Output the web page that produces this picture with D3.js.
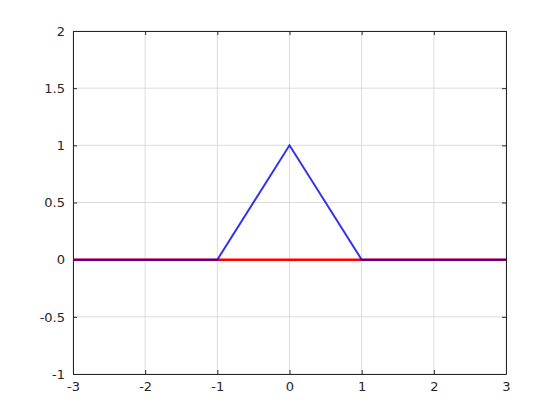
<!DOCTYPE html>
<html>
<head>
<meta charset="utf-8">
<script src="https://cdn.jsdelivr.net/npm/d3@7"></script>
<style>
  body { margin: 0; background: #fff; }
  text { font-family: "DejaVu Sans", sans-serif; }
</style>
</head>
<body>
<div id="chart"></div>
<script>
// data
var xTicks = [-3, -2, -1, 0, 1, 2, 3];
var yTicks = [-1, -0.5, 0, 0.5, 1, 1.5, 2];
var hatX = [-3, -1, 0, 1, 3];
var hatY = [0, 0, 1, 0, 0];
var baseX = [-3, 3];
var baseY = [0, 0];

var width = 560,
    height = 420;
var margin = {left: 73, right: 54, top: 31, bottom: 46};

var svg = d3.select("#chart")
    .append("svg")
        .attr("width", width)
        .attr("height", height);

var x = d3.scaleLinear().domain([-3, 3]).range([margin.left, width - margin.right]);
var y = d3.scaleLinear().domain([-1, 2]).range([height - margin.bottom, margin.top]);

// grid
svg.append("g")
    .selectAll("line")
    .data(xTicks)
    .enter()
    .append("line")
        .attr("x1", d => x(d)).attr("x2", d => x(d))
        .attr("y1", y(-1)).attr("y2", y(2))
        .attr("stroke", "#dcdcdc")
        .attr("stroke-width", 1);
svg.append("g")
    .selectAll("line")
    .data(yTicks)
    .enter()
    .append("line")
        .attr("x1", x(-3)).attr("x2", x(3))
        .attr("y1", d => y(d)).attr("y2", d => y(d))
        .attr("stroke", "#dcdcdc")
        .attr("stroke-width", 1);

// axes with inward ticks
var fmt = d => String(d);
svg.append("g")
    .attr("transform", "translate(0," + y(-1) + ")")
    .call(d3.axisBottom(x).tickValues(xTicks).tickSizeInner(-4).tickSizeOuter(0).tickPadding(8).tickFormat(fmt));
svg.append("g")
    .attr("transform", "translate(0," + y(2) + ")")
    .call(d3.axisTop(x).tickValues(xTicks).tickSizeInner(-4).tickSizeOuter(0).tickFormat(""));
svg.append("g")
    .attr("transform", "translate(" + x(-3) + ",0)")
    .call(d3.axisLeft(y).tickValues(yTicks).tickSizeInner(-4).tickSizeOuter(0).tickPadding(8).tickFormat(fmt));
svg.append("g")
    .attr("transform", "translate(" + x(3) + ",0)")
    .call(d3.axisRight(y).tickValues(yTicks).tickSizeInner(-4).tickSizeOuter(0).tickFormat(""));

svg.selectAll(".domain").attr("stroke", "#262626");
svg.selectAll(".tick line").attr("stroke", "#262626");
svg.selectAll(".tick text")
    .attr("fill", "#262626")
    .style("font-size", "13px");

// lines
var line = d3.line().x(d => x(d[0])).y(d => y(d[1]));

svg.append("path")
    .datum(d3.zip(baseX, baseY))
    .attr("d", line)
    .attr("fill", "none")
    .attr("stroke", "#ff0000")
    .attr("stroke-width", 2.5);

svg.append("path")
    .datum(d3.zip(hatX, hatY))
    .attr("d", line)
    .attr("fill", "none")
    .attr("stroke", "#0000e6")
    .attr("stroke-opacity", 0.8)
    .attr("stroke-width", 2);
</script>
</body>
</html>
